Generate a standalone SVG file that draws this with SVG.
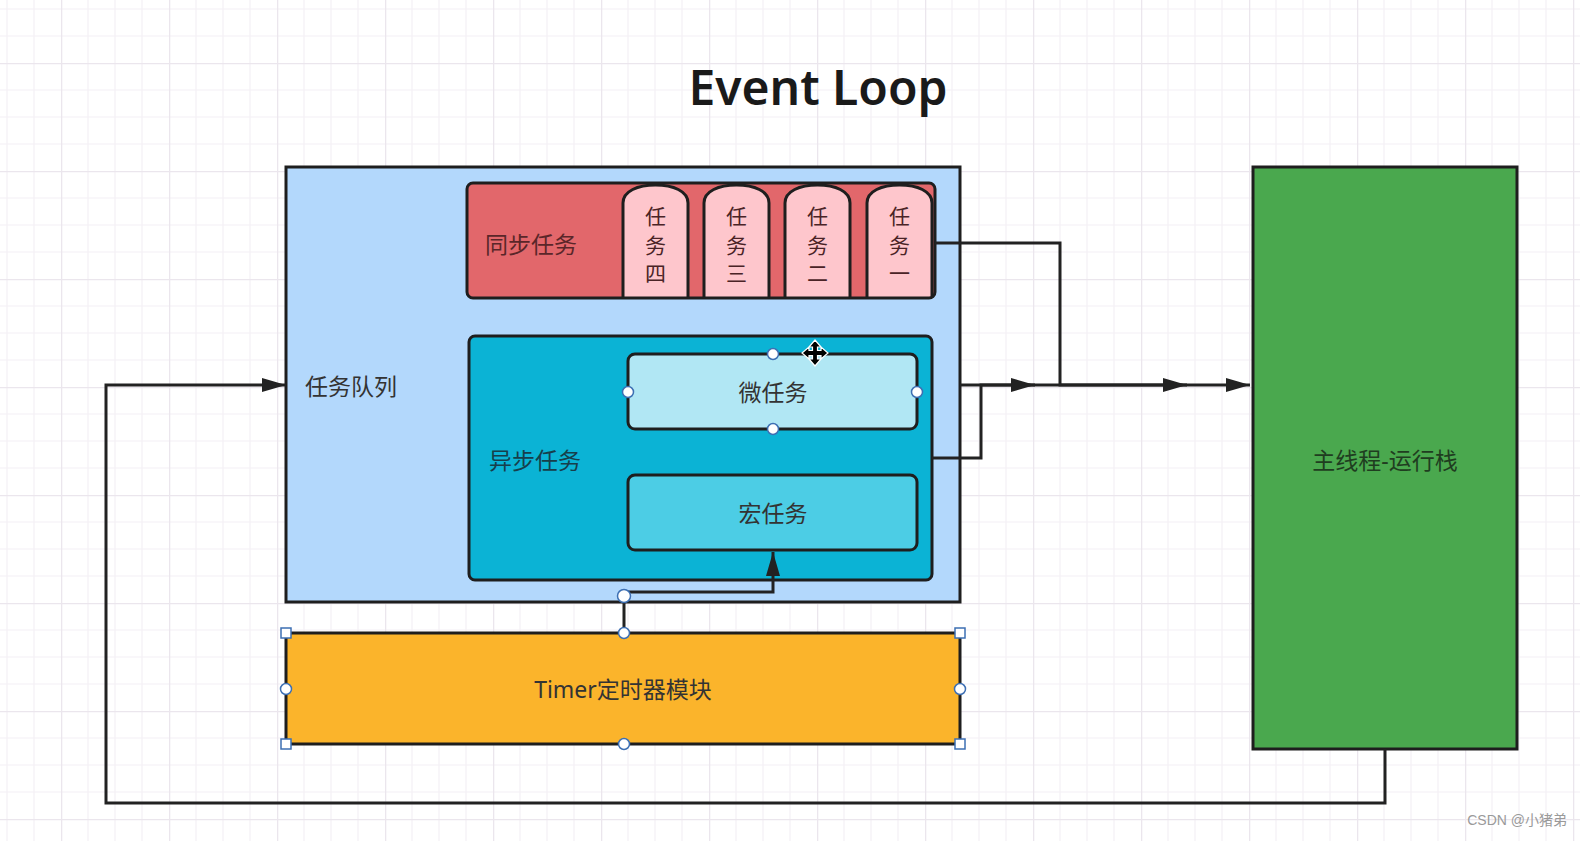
<svg xmlns="http://www.w3.org/2000/svg" width="1580" height="841" viewBox="0 0 1580 841">
<style>
.box{stroke:#1e1e1e;stroke-width:3}
.t{font-family:"Noto Sans","Noto Sans CJK SC",sans-serif;font-size:23px;fill:#333;text-anchor:middle;dominant-baseline:central}
.tv{font-family:"Noto Sans CJK SC",sans-serif;font-size:21px;fill:#4a2326;text-anchor:middle;dominant-baseline:central}
.conn{fill:none;stroke:#222;stroke-width:3}
.hc{fill:#fff;stroke:#3d6fb3;stroke-width:1.5}
</style>
<defs>
<pattern id="grid" x="61" y="63" width="108" height="108" patternUnits="userSpaceOnUse">
<path d="M27,0V108M54,0V108M81,0V108M0,27H108M0,54H108M0,81H108" stroke="#f4f0f5" stroke-width="1.2" fill="none"/>
<path d="M0.5,0V108M0,0.5H108" stroke="#ebe6ed" stroke-width="1.6" fill="none"/>
</pattern>
<marker id="arr" viewBox="0 0 24 14" refX="24" refY="7" markerWidth="24" markerHeight="14" markerUnits="userSpaceOnUse" orient="auto">
<path d="M0,0L24,7L0,14Z" fill="#222"/>
</marker>
</defs>
<rect width="1580" height="841" fill="#fff"/>
<rect width="1580" height="841" fill="url(#grid)"/>

<text x="818" y="86" font-family="'Noto Sans',sans-serif" font-size="48" font-weight="600" fill="#1a1a1a" text-anchor="middle" dominant-baseline="central">Event Loop</text>

<g id="queue">
<rect class="box" x="286" y="167" width="674" height="435" fill="#b3d8fc"/>
<text class="t" x="351" y="386" fill="#2b3f55">任务队列</text>
</g>

<g id="sync">
<rect x="467" y="183" width="468" height="115" rx="6" fill="#e2676b"/>
<text class="t" x="531" y="244" style="fill:#5a2629">同步任务</text>
</g>
<g id="task4">
<path class="box" d="M623,298V203C623,191 638,185 655.5,185C673,185 688,191 688,203V298" fill="#fec6cc"/>
<text class="tv" x="655.5" y="215">任</text><text class="tv" x="655.5" y="244">务</text><text class="tv" x="655.5" y="272">四</text>
</g>
<g id="task3">
<path class="box" d="M704,298V203C704,191 719,185 736.5,185C754,185 769,191 769,203V298" fill="#fec6cc"/>
<text class="tv" x="736.5" y="215">任</text><text class="tv" x="736.5" y="244">务</text><text class="tv" x="736.5" y="272">三</text>
</g>
<g id="task2">
<path class="box" d="M785,298V203C785,191 800,185 817.5,185C835,185 850,191 850,203V298" fill="#fec6cc"/>
<text class="tv" x="817.5" y="215">任</text><text class="tv" x="817.5" y="244">务</text><text class="tv" x="817.5" y="272">二</text>
</g>
<g id="task1">
<path class="box" d="M867,298V203C867,191 882,185 899.5,185C917,185 932,191 932,203V298" fill="#fec6cc"/>
<text class="tv" x="899.5" y="215">任</text><text class="tv" x="899.5" y="244">务</text><text class="tv" x="899.5" y="272">一</text>
</g>
<rect class="box" x="467" y="183" width="468" height="115" rx="6" fill="none"/>

<g id="async">
<rect class="box" x="469" y="336" width="463" height="244" rx="6" fill="#0bb3d5"/>
<text class="t" x="535" y="460" style="fill:#173f4b">异步任务</text>
</g>
<g id="micro">
<rect class="box" x="628" y="354" width="289" height="75" rx="7" fill="#b1e7f4"/>
<text class="t" x="773" y="392">微任务</text>
<circle class="hc" cx="773" cy="354" r="5.5"/>
<circle class="hc" cx="628" cy="392" r="5.5"/>
<circle class="hc" cx="917" cy="392" r="5.5"/>
<circle class="hc" cx="773" cy="429" r="5.5"/>
</g>
<g id="macro">
<rect class="box" x="628" y="475" width="289" height="75" rx="7" fill="#4ccde5"/>
<text class="t" x="773" y="513">宏任务</text>
</g>

<g id="timer">
<rect class="box" x="286" y="633" width="674" height="111" fill="#fbb42b"/>
<text class="t" x="623" y="689">Timer定时器模块</text>
</g>

<g id="mainstack">
<rect class="box" x="1253" y="167" width="264" height="582" fill="#4aa84e"/>
<text class="t" x="1385" y="460" style="fill:#1f3d20">主线程-运行栈</text>
</g>

<g id="connectors">
<path class="conn" d="M935,243H1060V385H1250" marker-end="url(#arr)"/>
<path class="conn" d="M932,458H981V385H1187" marker-end="url(#arr)"/>
<path class="conn" d="M960,385H1035" marker-end="url(#arr)"/>
<path class="conn" d="M1385,749V803H106V385H286" marker-end="url(#arr)"/>
<path class="conn" d="M624,633V592H773V552" marker-end="url(#arr)"/>
</g>

<g id="handles">
<circle class="hc" cx="624" cy="596" r="6.5"/>
<circle class="hc" cx="624" cy="633" r="5.5"/>
<circle class="hc" cx="624" cy="744" r="5.5"/>
<circle class="hc" cx="286" cy="689" r="5.5"/>
<circle class="hc" cx="960" cy="689" r="5.5"/>
<rect class="hc" x="281" y="628" width="10" height="10"/>
<rect class="hc" x="955" y="628" width="10" height="10"/>
<rect class="hc" x="281" y="739" width="10" height="10"/>
<rect class="hc" x="955" y="739" width="10" height="10"/>
</g>

<g id="cursor">
<path d="M815,340L821,347H817.5V350.5H821V347L828,353L821,359V355.5H817.5V359H821L815,366L809,359H812.5V355.5H809V359L802,353L809,347V350.5H812.5V347H809Z" fill="#000" stroke="#fff" stroke-width="1.2"/>
</g>

<text x="1567" y="825" font-family="'Liberation Sans','Noto Sans CJK SC',sans-serif" font-size="14" fill="#9a9a9a" text-anchor="end">CSDN @小猪弟</text>
</svg>
